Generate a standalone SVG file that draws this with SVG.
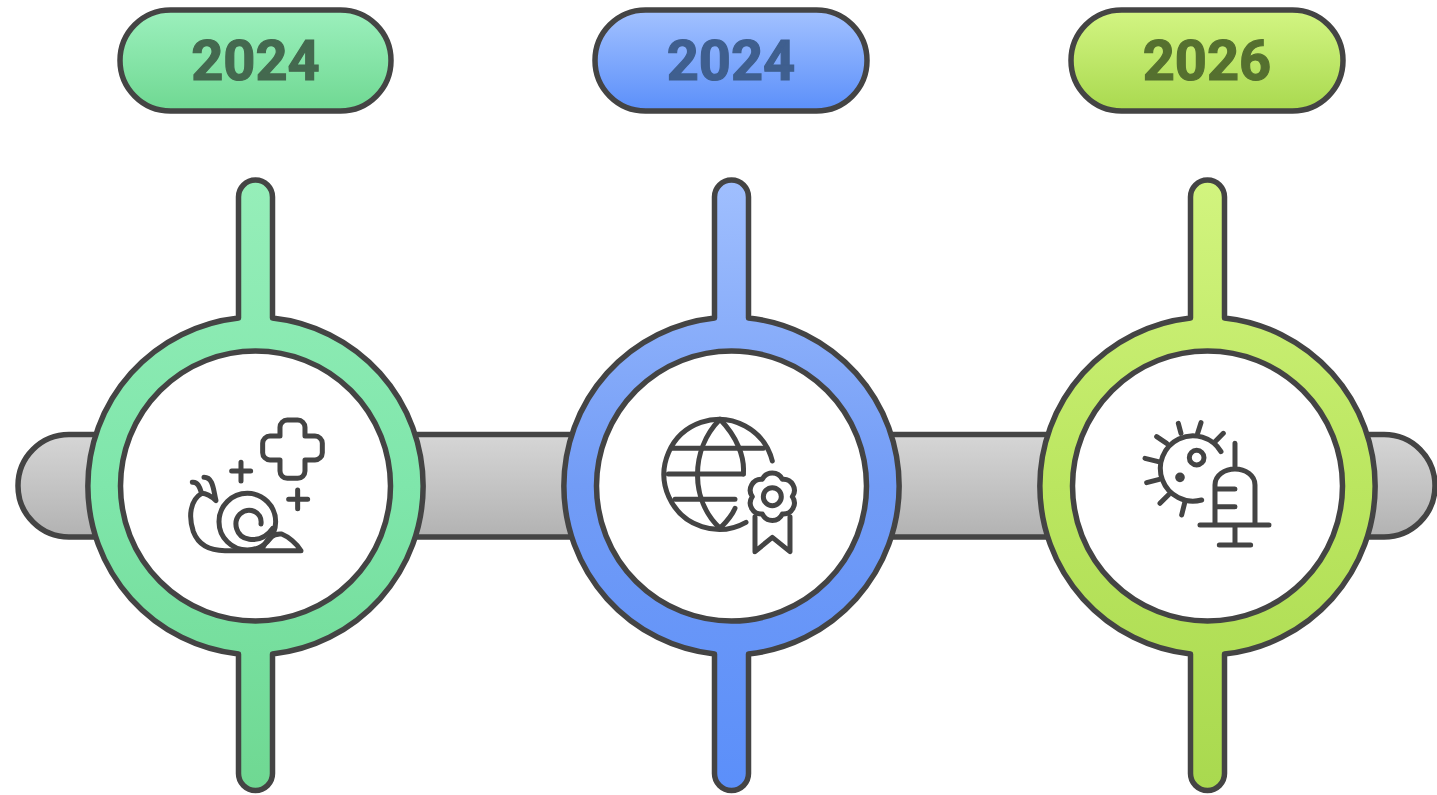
<svg xmlns="http://www.w3.org/2000/svg" width="1437" height="795" viewBox="0 0 1437 795">
<style>
.o{stroke:#444;stroke-width:5.500;stroke-linejoin:round}
.w{fill:#fff;stroke:#444;stroke-width:5.500}
.t{font-family:Roboto,"Liberation Sans",sans-serif;font-weight:700;font-size:56px;text-anchor:middle;stroke-width:1.200px}
.i{fill:none;stroke:#444;stroke-width:15;stroke-linecap:round;stroke-linejoin:round}
</style>
<defs>
<linearGradient id="gg" x1="0" y1="0" x2="0" y2="1"><stop offset="0" stop-color="#d6d6d6"/><stop offset="1" stop-color="#b2b2b2"/></linearGradient>
<linearGradient id="g1" x1="0" y1="0" x2="0" y2="1"><stop offset="0" stop-color="#9cf0bd"/><stop offset="1" stop-color="#6fd892"/></linearGradient>
<linearGradient id="g1b" x1="0" y1="0" x2="0" y2="1"><stop offset="0" stop-color="#96eeb9"/><stop offset=".5" stop-color="#7fe6ab"/><stop offset="1" stop-color="#6fd892"/></linearGradient>
<linearGradient id="g2" x1="0" y1="0" x2="0" y2="1"><stop offset="0" stop-color="#a3c2ff"/><stop offset="1" stop-color="#5b8ffa"/></linearGradient>
<linearGradient id="g2b" x1="0" y1="0" x2="0" y2="1"><stop offset="0" stop-color="#a0bffe"/><stop offset=".5" stop-color="#729cf6"/><stop offset="1" stop-color="#5b8ffa"/></linearGradient>
<linearGradient id="g3" x1="0" y1="0" x2="0" y2="1"><stop offset="0" stop-color="#d3f583"/><stop offset="1" stop-color="#a9d94f"/></linearGradient>
<linearGradient id="g3b" x1="0" y1="0" x2="0" y2="1"><stop offset="0" stop-color="#d2f47f"/><stop offset=".5" stop-color="#bbe660"/><stop offset="1" stop-color="#a9d94f"/></linearGradient>
<path id="ring" d="M-17,-168V-289A17,17 0 0 1 17,-289V-168A169,169 0 0 1 17,168V287.500A17,17 0 0 1 -17,287.500V168A169,169 0 0 1 -17,-168Z"/>
</defs>
<g id="connectors">
<rect id="bar" class="o" x="18" y="434.500" width="1417" height="102.500" rx="51" fill="url(#gg)"/>
</g>
<g id="node-1">
<rect class="o" x="120" y="10" width="271" height="101" rx="50.500" fill="url(#g1)"/>
<text class="t" x="255.500" y="80" fill="#44694f" stroke="#44694f">2024</text>
<use href="#ring" x="255.500" y="486" class="o" fill="url(#g1b)"/>
<circle class="w" cx="255.500" cy="486" r="135"/>
<g class="i" transform="translate(160 400) scale(.3333)">
<path d="M360,82A22,22 0 0 1 382,60H413A22,22 0 0 1 435,82V108H465A22,22 0 0 1 487,130V158A22,22 0 0 1 465,180H435V213A22,22 0 0 1 413,235H382A22,22 0 0 1 360,213V180H330A22,22 0 0 1 308,158V130A22,22 0 0 1 330,108H360Z"/>
<path d="M243,187V243M215,213H272M413,270V326M386,298H443"/>
<circle cx="262" cy="365" r="85"/>
<path d="M303,372C308,335 265,318 240,342C218,365 226,412 268,418C300,422 322,408 338,385"/>
<path d="M125,280C90,300 85,350 100,395C115,435 150,452 195,452H423C410,430 385,410 365,402C345,400 325,410 310,440"/>
<path d="M125,280C140,280 155,290 168,302C160,270 160,232 132,232M125,280C120,265 115,245 97,247"/>
</g>
</g>
<g id="node-2">
<rect class="o" x="595" y="10" width="272" height="101" rx="50.500" fill="url(#g2)"/>
<text class="t" x="731" y="80" fill="#3f5f8f" stroke="#3f5f8f">2024</text>
<use href="#ring" x="731.500" y="486" class="o" fill="url(#g2b)"/>
<circle class="w" cx="731.500" cy="486" r="135"/>
<g class="i" transform="translate(640 400) scale(.3333)">
<path d="M397,183A165,165 0 1 0 318,367"/>
<path d="M95,145H370M85,222H310M105,298H285"/>
<path d="M240,58C150,150 150,300 240,385M240,58C290,110 315,170 310,222M285,325C275,350 255,370 240,385"/>
<path d="M367,238A33,33 0 0 1 427,238A33,33 0 0 1 457,290A33,33 0 0 1 427,342A33,33 0 0 1 367,342A33,33 0 0 1 337,290A33,33 0 0 1 367,238Z"/>
<circle cx="397" cy="290" r="27"/>
<path d="M345,350V455L397,412L450,455V350"/>
</g>
</g>
<g id="node-3">
<rect class="o" x="1071" y="10" width="272" height="101" rx="50.500" fill="url(#g3)"/>
<text class="t" x="1207" y="80" fill="#55702f" stroke="#55702f">2026</text>
<use href="#ring" x="1207.500" y="486" class="o" fill="url(#g3b)"/>
<circle class="w" cx="1207.500" cy="486" r="135"/>
<g class="i" transform="translate(1120 400) scale(.3333)">
<path d="M303,155A98,98 0 1 0 245,300"/>
<path d="M175,70L183,100M243,68L233,100M310,100L285,125M110,110L140,130M75,175L115,185M80,248L118,238M120,310L145,285M185,345L195,305"/>
<circle cx="230" cy="173" r="22"/>
<circle cx="180" cy="232" r="7"/>
<path d="M345,130V205M285,375V255C285,225 315,207 345,207C375,207 405,225 405,255V375M240,375H447M345,375V435M298,435H392M290,267H345M290,320H345"/>
</g>
</g>
</svg>
